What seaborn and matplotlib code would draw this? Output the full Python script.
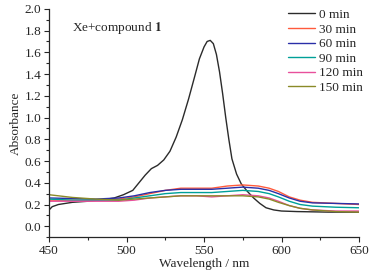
import numpy as np
import pandas as pd
import matplotlib
matplotlib.use("Agg")
import matplotlib.pyplot as plt
from matplotlib.ticker import MultipleLocator
import seaborn as sns

# ---- data ----
wl_0 = [450, 452, 456, 465, 475, 485, 492, 498, 504, 508, 512, 516, 520, 524,
        528, 532, 536, 540, 544, 547, 550, 552, 554, 556, 558, 560, 562, 564,
        566, 568, 571, 574, 578, 582, 586, 590, 595, 600, 610, 630, 650]
abs_0 = [0.15, 0.18, 0.20, 0.22, 0.23, 0.245, 0.26, 0.29, 0.33, 0.40, 0.47,
         0.53, 0.56, 0.61, 0.69, 0.82, 0.98, 1.17, 1.38, 1.54, 1.65, 1.70,
         1.71, 1.68, 1.58, 1.42, 1.22, 1.00, 0.80, 0.62, 0.48, 0.39, 0.32,
         0.26, 0.21, 0.17, 0.15, 0.14, 0.135, 0.13, 0.13]

wl = [450, 465, 480, 495, 505, 515, 525, 535, 545, 555, 565, 575, 585, 592,
      598, 605, 612, 620, 635, 650]
abs_30 = [0.24, 0.24, 0.24, 0.25, 0.27, 0.30, 0.33, 0.35, 0.35, 0.35, 0.37,
          0.38, 0.37, 0.35, 0.32, 0.27, 0.24, 0.22, 0.21, 0.20]
abs_60 = [0.26, 0.255, 0.25, 0.26, 0.28, 0.31, 0.33, 0.34, 0.34, 0.34, 0.35,
          0.36, 0.35, 0.33, 0.30, 0.26, 0.23, 0.215, 0.21, 0.205]
abs_90 = [0.25, 0.24, 0.24, 0.24, 0.26, 0.28, 0.30, 0.31, 0.31, 0.31, 0.32,
          0.33, 0.32, 0.30, 0.27, 0.23, 0.20, 0.185, 0.175, 0.17]
abs_120 = [0.23, 0.23, 0.23, 0.23, 0.24, 0.26, 0.27, 0.28, 0.28, 0.27, 0.28,
           0.29, 0.28, 0.26, 0.23, 0.19, 0.165, 0.15, 0.14, 0.14]
abs_150 = [0.29, 0.265, 0.25, 0.24, 0.25, 0.26, 0.27, 0.28, 0.28, 0.28, 0.28,
           0.28, 0.27, 0.25, 0.22, 0.19, 0.165, 0.15, 0.135, 0.13]

labels = ["0 min", "30 min", "60 min", "90 min", "120 min", "150 min"]
colors = ["#2b2b2b", "#ff5a3c", "#2a2fa8", "#00a098", "#e8509c", "#8a8a28"]

frames = [pd.DataFrame({"wl": wl_0, "A": abs_0, "t": labels[0]})]
for lab, ys in zip(labels[1:], [abs_30, abs_60, abs_90, abs_120, abs_150]):
    frames.append(pd.DataFrame({"wl": wl, "A": ys, "t": lab}))
df = pd.concat(frames, ignore_index=True)

sns.set_style("ticks")
plt.rcParams["font.family"] = ["Liberation Serif", "DejaVu Serif"]
plt.rcParams["mathtext.fontset"] = "stix"

fs = 9.5
fig = plt.figure(figsize=(3.72, 2.77), dpi=100)
ax = fig.add_axes([0.132, 0.144, 0.833, 0.824])

sns.lineplot(data=df, x="wl", y="A", hue="t", hue_order=labels,
             palette=dict(zip(labels, colors)), linewidth=1.0, ax=ax,
             sort=True, estimator=None)

ax.set_xlim(450, 650)
ax.set_ylim(-0.1, 2.0)
ax.xaxis.set_major_locator(MultipleLocator(50))
ax.xaxis.set_minor_locator(MultipleLocator(25))
ax.yaxis.set_minor_locator(MultipleLocator(0.1))
ax.set_yticks(np.arange(0, 2.01, 0.2))
ax.tick_params(which="major", direction="out", length=3.5, width=0.8, labelsize=fs, pad=2)
ax.tick_params(which="minor", direction="out", length=2, width=0.8)
for s in ["top", "right"]:
    ax.spines[s].set_visible(False)
for s in ["left", "bottom"]:
    ax.spines[s].set_linewidth(0.9)

ax.set_xlabel("Wavelength / nm", fontsize=fs, labelpad=1)
ax.set_ylabel("Absorbance", fontsize=fs, labelpad=2)

ax.text(0.075, 0.915, r"Xe+compound $\mathbf{1}$", transform=ax.transAxes,
        fontsize=fs, ha="left", va="center")

ax.legend(loc="upper right", bbox_to_anchor=(1.04, 1.035), frameon=False,
          fontsize=fs, handlelength=2.0, labelspacing=0.18, handletextpad=0.35,
          borderaxespad=0.2)

fig.savefig("out.png", dpi=100)
